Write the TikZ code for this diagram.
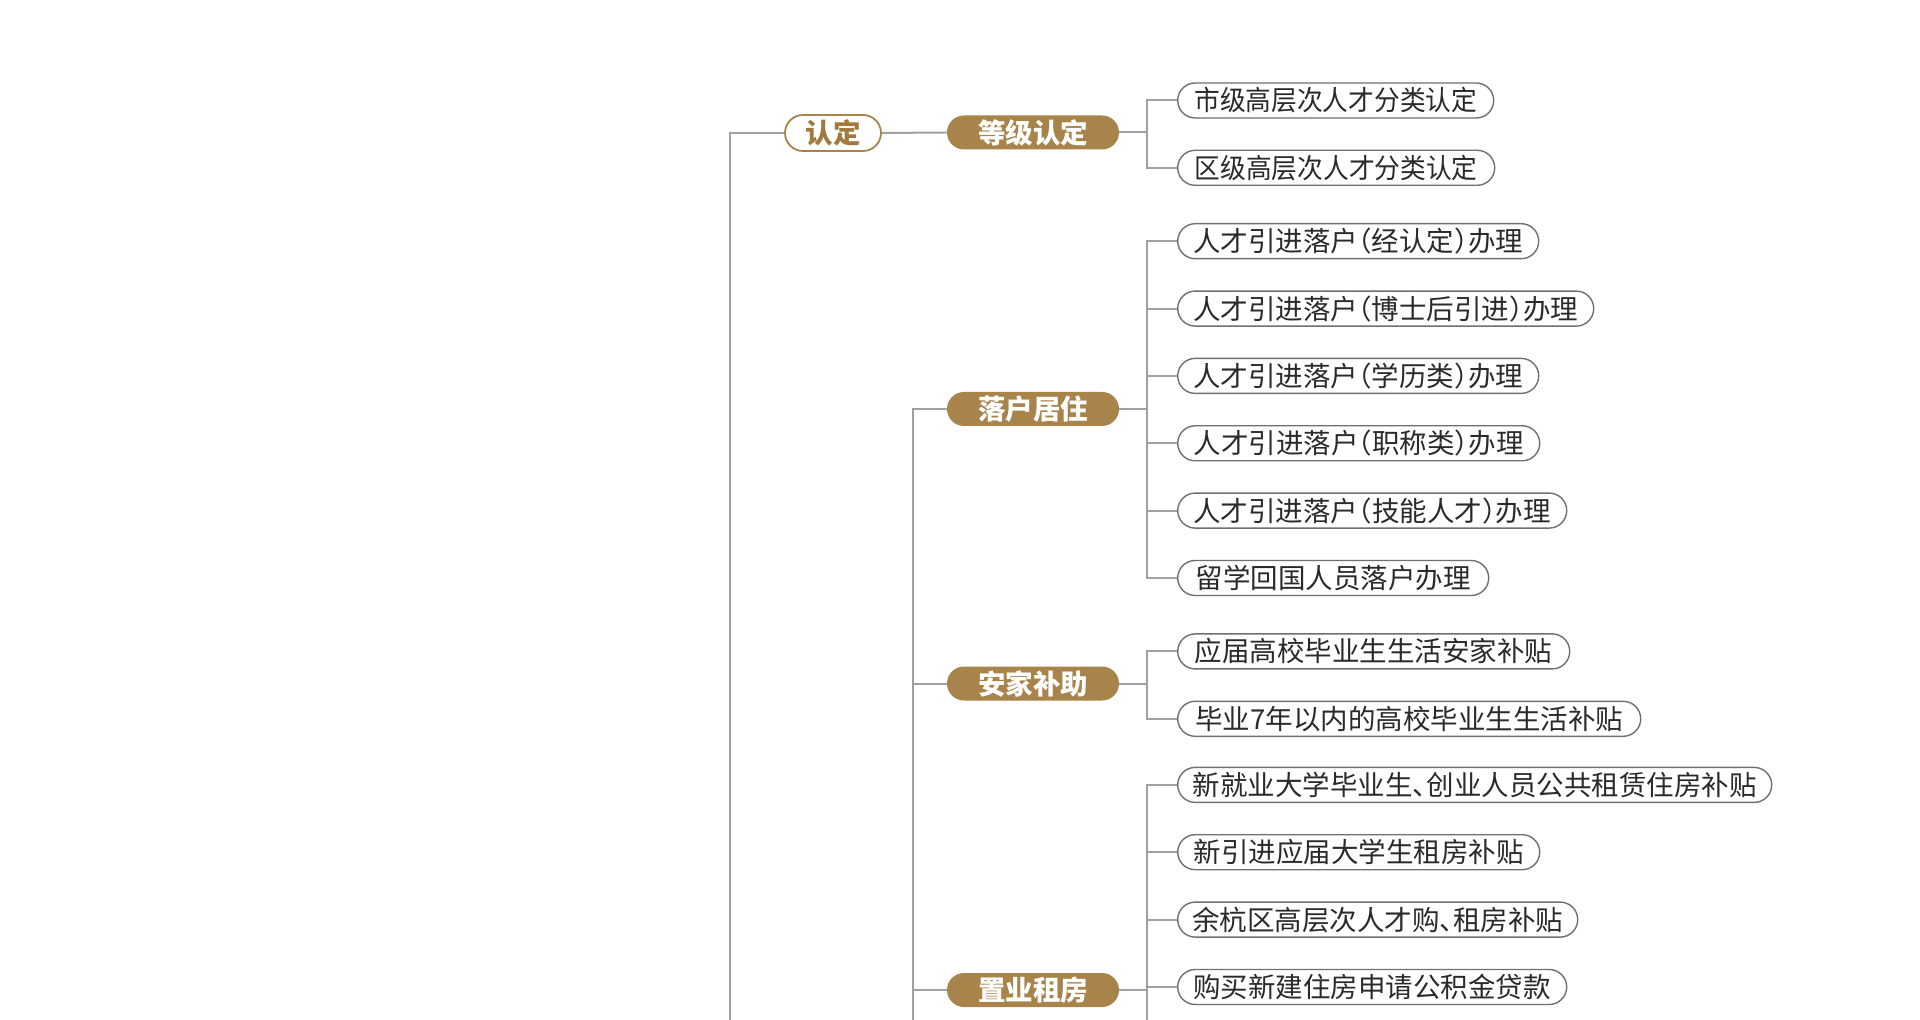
\documentclass[tikz,border=0pt]{standalone}
\usepackage{graphicx}
\usepackage{fontspec}
\setmainfont{Noto Sans CJK SC}[RawFeature=+halt]
\definecolor{gold}{HTML}{A8834A}
\definecolor{goldtxt}{HTML}{A07A3E}
\definecolor{linegray}{HTML}{A0A0A0}
\definecolor{leafborder}{HTML}{707070}
\definecolor{txt}{HTML}{2A2A2A}
\newcommand\fsz{\fontsize{13.75pt}{16pt}\selectfont}
\newcommand\narrowtxt[1]{\scalebox{0.935}[1]{#1}}
\tikzset{
  conn/.style={draw=linegray, line width=1pt},
  leaf/.style={draw=leafborder, line width=0.7pt, rounded corners=8.75pt, minimum height=17.5pt, inner sep=0pt, anchor=west, text=txt, font=\fsz},
  cat/.style={fill=gold, text=white, font=\fsz\bfseries, rounded corners=8.5pt, minimum width=86pt, minimum height=17pt, inner sep=0pt},
  topnode/.style={draw=gold, fill=white, text=goldtxt, line width=0.9pt, font=\fsz\bfseries, rounded corners=9pt, minimum width=48pt, minimum height=18pt, inner sep=0pt}
}
\begin{document}
\begin{tikzpicture}[x=0.5pt, y=-0.5pt]
\useasboundingbox (0,0) rectangle (1920,1020);
\fill[white] (0,0) rectangle (1920,1020);

% coordinates for free ends and bracket columns
\coordinate (rootbot) at (730,1020);
\coordinate (secbot) at (913,1020);
\coordinate (bx) at (1147,1020);

% level 1
\node[topnode] (rd) at (833,133) {认定};

% level 2
\node[cat] (dj) at (1033,132.5) {等级认定};
\node[cat] (lh) at (1033,409) {落户居住};
\node[cat] (aj) at (1033,683.5) {安家补助};
\node[cat] (zy) at (1033,990) {置业租房};

% leaves
\node[leaf, minimum width=158pt] (a1) at (1177,100.5) {\narrowtxt{市级高层次人才分类认定}};
\node[leaf, minimum width=158.5pt] (a2) at (1177,167.8) {\narrowtxt{区级高层次人才分类认定}};

\node[leaf, minimum width=180.5pt] (b1) at (1177,241.2) {人才引进落户（经认定）办理};
\node[leaf, minimum width=208pt] (b2) at (1177,308.6) {人才引进落户（博士后引进）办理};
\node[leaf, minimum width=180.5pt] (b3) at (1177,375.9) {人才引进落户（学历类）办理};
\node[leaf, minimum width=181pt] (b4) at (1177,443.3) {人才引进落户（职称类）办理};
\node[leaf, minimum width=194.5pt] (b5) at (1177,510.6) {人才引进落户（技能人才）办理};
\node[leaf, minimum width=155.5pt] (b6) at (1177,578) {留学回国人员落户办理};

\node[leaf, minimum width=196pt] (c1) at (1177,651.4) {应届高校毕业生生活安家补贴};
\node[leaf, minimum width=231.5pt] (c2) at (1177,718.8) {毕业7年以内的高校毕业生生活补贴};

\node[leaf, minimum width=297pt] (d1) at (1177,784.9) {新就业大学毕业生、创业人员公共租赁住房补贴};
\node[leaf, minimum width=181pt] (d2) at (1177,852.2) {新引进应届大学生租房补贴};
\node[leaf, minimum width=200pt] (d3) at (1177,919.6) {余杭区高层次人才购、租房补贴};
\node[leaf, minimum width=194.5pt] (d4) at (1177,987) {购买新建住房申请公积金贷款};

% root and second-level connectors
\draw[conn] (rootbot) |- (rd.west);
\draw[conn] (rd.east) -- (dj.west);
\draw[conn] (secbot) |- (lh.west);
\draw[conn] (aj.west) -- (aj.west -| secbot);
\draw[conn] (zy.west) -- (zy.west -| secbot);

% brackets: 等级认定
\draw[conn] (dj.east) -- (dj.east -| bx);
\draw[conn] (a1.west) -- (a1.west -| bx) -- (a2.west -| bx) -- (a2.west);

% 落户居住
\draw[conn] (lh.east) -- (lh.east -| bx);
\draw[conn] (b1.west) -- (b1.west -| bx) -- (b6.west -| bx) -- (b6.west);
\foreach \n in {b2,b3,b4,b5} \draw[conn] (\n.west) -- (\n.west -| bx);

% 安家补助
\draw[conn] (aj.east) -- (aj.east -| bx);
\draw[conn] (c1.west) -- (c1.west -| bx) -- (c2.west -| bx) -- (c2.west);

% 置业租房
\draw[conn] (zy.east) -- (zy.east -| bx);
\draw[conn] (d1.west) -- (d1.west -| bx) -- (bx);
\foreach \n in {d2,d3,d4} \draw[conn] (\n.west) -- (\n.west -| bx);
\end{tikzpicture}
\end{document}
